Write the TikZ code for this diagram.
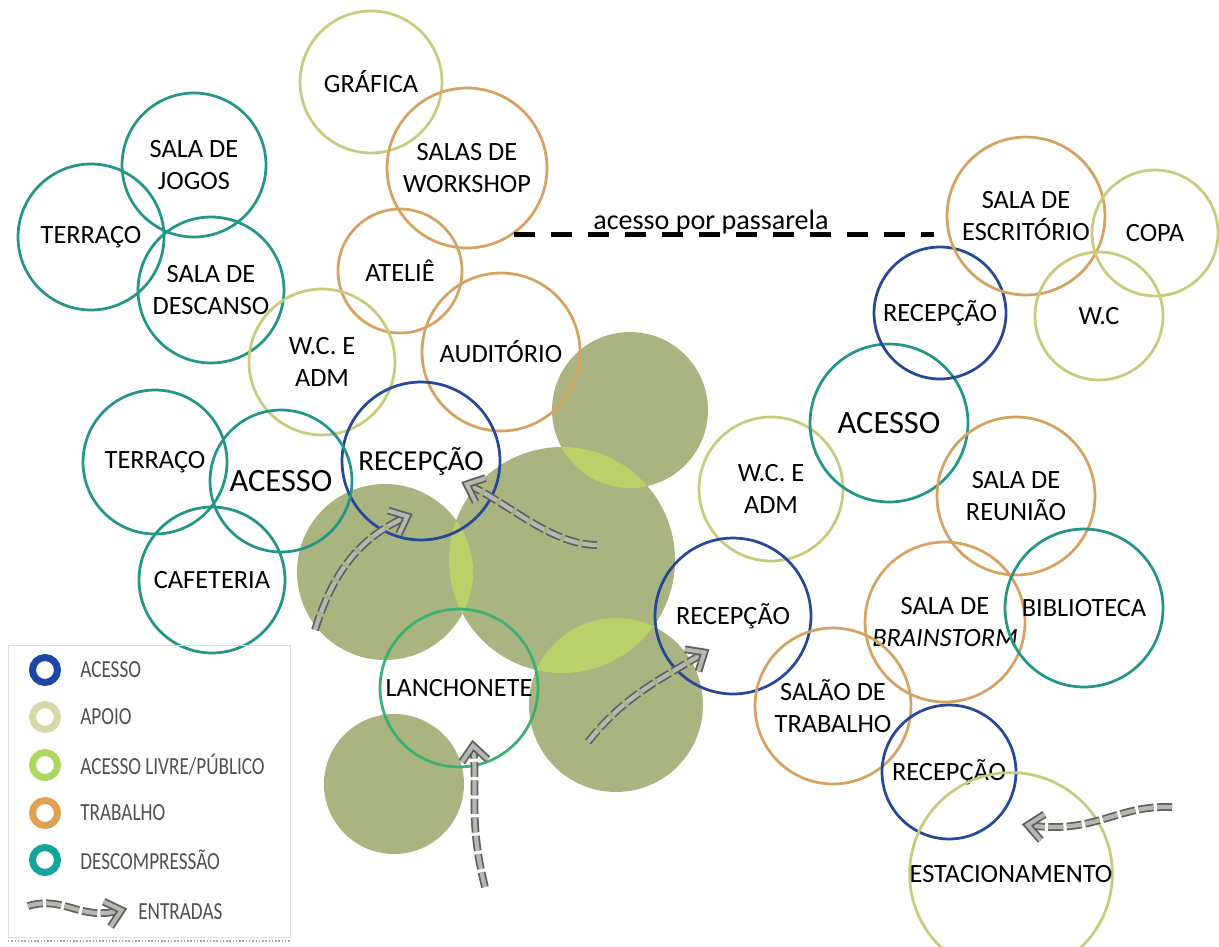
\documentclass[tikz,border=0pt]{standalone}
\usepackage{fontspec}
\setmainfont{Carlito}
\newfontfamily\legfont[FakeStretch=0.78]{Carlito}
\usetikzlibrary{decorations.markings}
\definecolor{cacesso}{RGB}{38,72,152}
\definecolor{capoio}{RGB}{200,202,125}
\definecolor{ctrab}{RGB}{214,162,98}
\definecolor{cdesc}{RGB}{36,150,136}
\definecolor{clanch}{RGB}{60,175,115}
\definecolor{blob}{RGB}{170,180,128}
\definecolor{lens}{RGB}{186,208,104}
\definecolor{arrdark}{RGB}{95,98,92}
\definecolor{arrlight}{RGB}{180,184,177}
\definecolor{lacesso}{RGB}{30,70,165}
\definecolor{lapoio}{RGB}{215,215,170}
\definecolor{llivre}{RGB}{175,215,95}
\definecolor{ltrab}{RGB}{222,160,85}
\definecolor{ldesc}{RGB}{20,165,155}
\definecolor{legtxt}{RGB}{80,80,80}
\begin{document}
\begin{tikzpicture}[x=0.02cm,y=-0.02cm,
  room/.style={circle, draw=#1, line width=0.055cm, inner sep=0pt, align=center,
    font=\fontsize{15}{18.5}\selectfont},
  rad/.style={minimum size=#1*0.04cm},
  bigtext/.style={font=\fontsize{18.5}{22}\selectfont},
  midtext/.style={font=\fontsize{16.5}{20}\selectfont},
  legring/.style={circle, draw=#1, line width=0.14cm, minimum size=0.5cm, inner sep=0pt},
  legtext/.style={anchor=west, inner sep=0pt, text=legtxt, font=\legfont\fontsize{14}{16}\selectfont},
  chev/.style={solid, line join=miter},
  entrada/.style={draw=arrdark, line width=0.035cm, double=arrlight, double distance=0.085cm,
    dash pattern=on 0.3cm off 0.07cm, postaction={decorate},
    decoration={markings, mark=at position 0.995 with {
      \draw[chev, line width=0.155cm, draw=arrdark] (-0.3cm,0.26cm) -- (0,0) -- (-0.3cm,-0.26cm);
      \draw[chev, line width=0.08cm, draw=arrlight] (-0.3cm,0.26cm) -- (0,0) -- (-0.3cm,-0.26cm);}}},
  passarela/.style={draw=black, line width=0.11cm, dash pattern=on 0.42cm off 0.32cm},
]
\useasboundingbox (0,0) rectangle (1219,946);

% green open areas
\coordinate (g1) at (630,410);
\coordinate (g2) at (562,560);
\coordinate (g3) at (385,572);
\coordinate (g4) at (616,705);
\coordinate (g5) at (394,784);
\fill[blob] (g1) circle[radius=78];
\fill[blob] (g2) circle[radius=113];
\fill[blob] (g3) circle[radius=88];
\fill[blob] (g4) circle[radius=87];
\fill[blob] (g5) circle[radius=70];
\begin{scope}\clip (g1) circle[radius=78]; \fill[lens] (g2) circle[radius=113];\end{scope}
\begin{scope}\clip (g3) circle[radius=88]; \fill[lens] (g2) circle[radius=113];\end{scope}
\begin{scope}\clip (g4) circle[radius=87]; \fill[lens] (g2) circle[radius=113];\end{scope}

% left-top group
\node[room=cdesc, rad=72] (jogos) at (194,165) {SALA DE\\JOGOS};
\node[room=cdesc, rad=73] (terraco1) at (91,237) {TERRAÇO};
\node[room=cdesc, rad=73] (descanso) at (211,290) {SALA DE\\DESCANSO};

% top middle group
\node[room=capoio, rad=71] (grafica) at (371,82) {GRÁFICA};
\node[room=ctrab, rad=80] (ws) at (467,168) {SALAS DE\\WORKSHOP};
\node[room=ctrab, rad=62] (atelie) at (400,271) {ATELIÊ};
\node[room=capoio, rad=73] (wc1) at (322,362) {W.C. E\\ADM};
\node[room=ctrab, rad=79] (audit) at (501,352) {AUDITÓRIO};
\node[room=cacesso, rad=79, midtext] (rec1) at (421,461) {RECEPÇÃO};

% left middle group
\node[room=cdesc, rad=72] (terraco2) at (155,462) {TERRAÇO};
\node[room=cdesc, rad=71, bigtext] (acesso1) at (281,481) {ACESSO};
\node[room=cdesc, rad=73] (cafe) at (212,580) {CAFETERIA};

\node[room=clanch, rad=79] (lanch) at (459,688) {LANCHONETE};

% right group
\node[room=capoio, rad=72] (wc2) at (771,489) {W.C. E\\ADM};
\node[room=cdesc, rad=79, bigtext] (acesso2) at (889,423) {ACESSO};
\node[room=cacesso, rad=66] (rec2) at (940,313) {RECEPÇÃO};
\node[room=ctrab, rad=79] (esc) at (1026,216) {SALA DE\\ESCRITÓRIO};
\node[room=capoio, rad=63] (copa) at (1155,233) {COPA};
\node[room=capoio, rad=64] (wc3) at (1099,316) {W.C};
\node[room=ctrab, rad=79] (reuniao) at (1016,496) {SALA DE\\REUNIÃO};
\node[room=cacesso, rad=78] (rec3) at (733,616) {RECEPÇÃO};
\node[room=ctrab, rad=80] (brain) at (945,622) {SALA DE\\\textit{BRAINSTORM}};
\node[room=cdesc, rad=79] (biblio) at (1084,608) {BIBLIOTECA};
\node[room=ctrab, rad=78] (salao) at (833,706) {SALÃO DE\\TRABALHO};
\node[room=cacesso, rad=67] (rec4) at (949,772) {RECEPÇÃO};
\node[room=capoio, rad=76] (estac) at (1011,874) {ESTACIONAMENTO};

% passarela
\coordinate (pb) at (934,233);
\draw[passarela] (ws.-55) -- (ws.-55 -| pb);
\node[anchor=base, inner sep=0pt, font=\fontsize{16}{18}\selectfont] (pastxt) at (711,229) {acesso por passarela};

% entradas
\coordinate (e1a) at (315,630); \coordinate (e1b) at (408,516);
\coordinate (e2a) at (597,545); \coordinate (e2b) at (466,484);
\coordinate (e3a) at (588,742); \coordinate (e3b) at (705,652);
\coordinate (e4a) at (485,887); \coordinate (e4b) at (473,745);
\coordinate (e5a) at (1172,807); \coordinate (e5b) at (1027,825);
\draw[entrada] (e1a) .. controls (335,565) and (365,535) .. (e1b);
\draw[entrada] (e2a) .. controls (550,545) and (505,500) .. (e2b);
\draw[entrada] (e3a) .. controls (625,695) and (660,680) .. (e3b);
\draw[entrada] (e4a) .. controls (468,820) and (478,790) .. (e4b);
\draw[entrada] (e5a) .. controls (1115,805) and (1095,835) .. (e5b);

% legend
\draw[gray!25, line width=0.02cm] (8,645) rectangle (290,937);
\draw[gray!70, densely dotted, line width=0.03cm] (8,941) -- (290,941);
\node[legring=lacesso] (lr1) at (45,670) {};
\node[legring=lapoio] (lr2) at (45,717) {};
\node[legring=llivre] (lr3) at (45,765) {};
\node[legring=ltrab] (lr4) at (45,813) {};
\node[legring=ldesc] (lr5) at (45,860) {};
\node[legtext] (lt1) at (80,670) {ACESSO};
\node[legtext] (lt2) at (80,717) {APOIO};
\node[legtext] (lt3) at (80,765) {ACESSO LIVRE/PÚBLICO};
\node[legtext] (lt4) at (80,813) {TRABALHO};
\node[legtext] (lt5) at (80,860) {DESCOMPRESSÃO};
\coordinate (la1) at (28,906); \coordinate (la2) at (122,910);
\draw[entrada] (la1) .. controls (65,895) and (80,922) .. (la2);
\node[legtext] (lt6) at (138,912) {ENTRADAS};
\end{tikzpicture}
\end{document}
